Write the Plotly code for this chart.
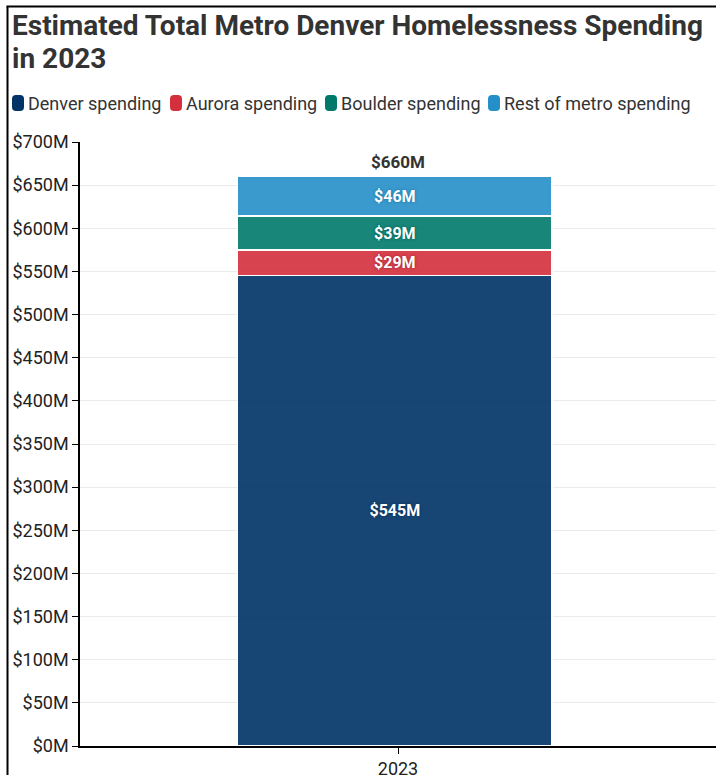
import plotly.graph_objects as go

categories = ["2023"]
series_names = ["Denver spending", "Aurora spending", "Boulder spending", "Rest of metro spending"]
denver = [545.4]
aurora = [29.3]
boulder = [39.4]
rest = [46.0]
series_values = [denver, aurora, boulder, rest]
colors = ["#003366", "#d32f3c", "#00796b", "#2590c8"]
halo = ["#0a2a4d", "#9e1f2a", "#005a50", "#1a6f9e"]
title_lines = ["Estimated Total Metro Denver Homelessness Spending", "in 2023"]
y_ticks = list(range(0, 701, 50))
y_tick_labels = [f"${v}M" for v in y_ticks]

totals = [sum(vals) for vals in zip(*series_values)]

W, H = 716, 775
L, R, T, B = 80, 0, 142, 29
pw, ph = W - L - R, H - T - B

def px_x(x):
    return (x - L) / pw

def px_y(y):
    return (H - B - y) / ph

BAR_W = 0.495
BAR_OFF = -0.2525

fig = go.Figure()
for name, vals, col, hc in zip(series_names, series_values, colors, halo):
    fig.add_trace(go.Bar(
        x=categories, y=vals, name=name,
        marker=dict(color=col, opacity=0.9, line=dict(color="white", width=1.5)),
        text=[f"${round(v)}M" for v in vals],
        textposition="inside", insidetextanchor="middle", constraintext="none",
        textfont=dict(family="Roboto", size=16, color="white", weight="bold",
                      shadow=f"0px 0px 3px {hc}"),
        width=BAR_W, offset=BAR_OFF, hoverinfo="skip", showlegend=False,
    ))

# totals above the stack
fig.add_trace(go.Scatter(
    x=categories, y=totals, mode="text+markers",
    marker=dict(size=5, opacity=0),
    text=[f"${round(t)}M" for t in totals], textposition="top center",
    textfont=dict(family="Roboto", size=17, color="#333333", weight="bold"),
    showlegend=False, hoverinfo="skip", cliponaxis=False,
))

# title (two lines)
for line, ty in zip(title_lines, [26, 59]):
    fig.add_annotation(xref="paper", yref="paper", x=px_x(10), y=px_y(ty),
                       xanchor="left", yanchor="middle", align="left", showarrow=False,
                       text=line,
                       font=dict(family="Roboto", size=28, color="#333333", weight="bold"))

# custom legend (rounded swatches + labels)
legend_x = [12, 170, 325, 488]
for name, col, lx in zip(series_names, colors, legend_x):
    fig.add_shape(type="path", xref="paper", yref="paper",
                  xsizemode="pixel", ysizemode="pixel",
                  xanchor=px_x(lx + 6), yanchor=px_y(103),
                  path="M -6 -4 Q -6 -8 -2 -8 L 2 -8 Q 6 -8 6 -4 L 6 4 Q 6 8 2 8 "
                       "L -2 8 Q -6 8 -6 4 Z",
                  fillcolor=col, line=dict(width=0))
    fig.add_annotation(xref="paper", yref="paper", x=px_x(lx + 14), y=px_y(103),
                       xanchor="left", yanchor="middle", showarrow=False,
                       text=name,
                       font=dict(family="Roboto", size=18, color="#333333"))

# outer frame lines (left and top)
fig.add_shape(type="line", xref="paper", yref="paper",
              x0=px_x(7.5), x1=px_x(7.5), y0=px_y(6.5), y1=px_y(H + 5),
              line=dict(color="black", width=2))
fig.add_shape(type="line", xref="paper", yref="paper",
              x0=px_x(6.5), x1=px_x(W + 5), y0=px_y(6.5), y1=px_y(6.5),
              line=dict(color="black", width=2))

fig.update_layout(
    barmode="stack",
    width=W, height=H,
    margin=dict(l=L, r=R, t=T, b=B, autoexpand=False),
    paper_bgcolor="white", plot_bgcolor="white",
    font=dict(family="Roboto", size=18, color="#222222"),
    showlegend=False,
    xaxis=dict(type="category", range=[-0.5, 0.5], showline=True, linecolor="black",
               linewidth=1.5, ticks="outside", ticklen=6, tickcolor="black",
               tickfont=dict(size=18, color="#222222"),
               showgrid=False, fixedrange=True),
    yaxis=dict(range=[0, 700], tickvals=y_ticks, ticktext=y_tick_labels,
               showline=True, linecolor="black", linewidth=1.5, ticks="outside",
               ticklen=6, tickcolor="black", showgrid=True, gridcolor="#ebebeb",
               gridwidth=1, zeroline=False, tickfont=dict(size=18, color="#222222"),
               fixedrange=True),
)

fig.write_html("out.html")
